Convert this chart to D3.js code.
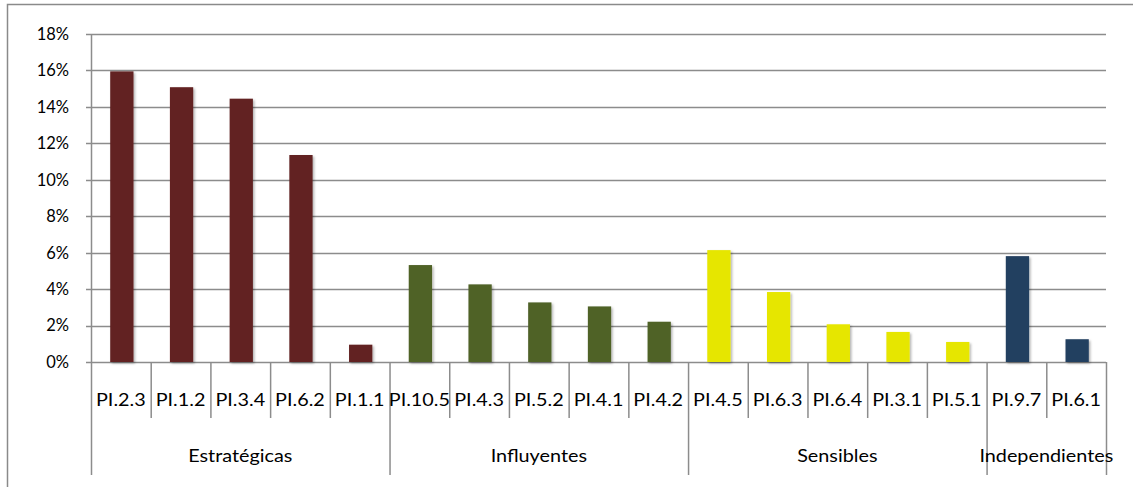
<!DOCTYPE html>
<html>
<head>
<meta charset="utf-8">
<script src="https://cdn.jsdelivr.net/npm/d3@7"></script>
<style>
  body { margin: 0; background: #fff; }
  svg { display: block; font-family: Lato, "DejaVu Sans", sans-serif; }
</style>
</head>
<body>
<svg id="chart"></svg>
<script>
// data
const categories = ["PI.2.3", "PI.1.2", "PI.3.4", "PI.6.2", "PI.1.1",
  "PI.10.5", "PI.4.3", "PI.5.2", "PI.4.1", "PI.4.2",
  "PI.4.5", "PI.6.3", "PI.6.4", "PI.3.1", "PI.5.1",
  "PI.9.7", "PI.6.1"];
const values = [0.1595, 0.1508, 0.1445, 0.1136, 0.0095,
  0.0532, 0.0426, 0.0327, 0.0305, 0.0221,
  0.0614, 0.0384, 0.0207, 0.0165, 0.011,
  0.0581, 0.0125];
const groups = ["Estratégicas", "Influyentes", "Sensibles", "Independientes"];
const groupSizes = [5, 5, 5, 2];
const groupColors = ["#622423", "#4f6228", "#e6e600", "#243f60"];
const yTicks = [0, 0.02, 0.04, 0.06, 0.08, 0.10, 0.12, 0.14, 0.16, 0.18];

const width = 1133;
const height = 487;
const plotLeft = 91, plotRight = 1106, plotTop = 34, plotBottom = 362;
const fontSize = 16.5;
const stretch = 1.2; // the source text is a little wider than it is tall

const svg = d3.select("#chart").attr("width", width).attr("height", height);

// group index per category
const groupOf = [];
groupSizes.forEach((n, g) => { for (let i = 0; i < n; i++) groupOf.push(g); });

const x = d3.scaleBand().domain(d3.range(categories.length)).range([plotLeft, plotRight]).padding(0);
const y = d3.scaleLinear().domain([0, 0.18]).range([plotBottom, plotTop]);

// outer chart border (only top and left visible)
svg.append("path")
  .attr("d", `M7.5,${height} V4.5 H${width}`)
  .attr("fill", "none")
  .attr("stroke", "#8a8a8a")
  .attr("stroke-width", 1.5);

const defs = svg.append("defs");
const shadow = defs.append("filter").attr("id", "shadow")
  .attr("x", "-30%").attr("y", "-10%").attr("width", "160%").attr("height", "130%");
shadow.append("feDropShadow")
  .attr("dx", 1.5).attr("dy", 1.5).attr("stdDeviation", 1.2)
  .attr("flood-color", "#000").attr("flood-opacity", 0.3);

// gridlines
svg.append("g")
  .selectAll("line")
  .data(yTicks)
  .join("line")
  .attr("x1", plotLeft - 5)
  .attr("x2", plotRight)
  .attr("y1", (d) => Math.round(y(d)) + 0.5)
  .attr("y2", (d) => Math.round(y(d)) + 0.5)
  .attr("stroke", "#8c8c8c")
  .attr("stroke-width", 1.5);

// y labels
svg.append("g")
  .selectAll("text")
  .data(yTicks)
  .join("text")
  .attr("x", 69)
  .attr("y", (d) => y(d))
  .attr("dy", "0.36em")
  .attr("text-anchor", "end")
  .attr("font-size", fontSize)
  .attr("fill", "#000")
  .text(d3.format(".0%"));

// bars
const barW = x.bandwidth() * 0.39;
svg.append("g")
  .selectAll("rect")
  .data(values)
  .join("rect")
  .attr("x", (d, i) => x(i) + (x.bandwidth() - barW) / 2 + 1)
  .attr("y", (d) => y(d))
  .attr("width", barW)
  .attr("height", (d) => y(0) - y(d))
  .attr("fill", (d, i) => groupColors[groupOf[i]])
  .attr("filter", "url(#shadow)");

// y axis line
svg.append("line")
  .attr("x1", plotLeft + 0.5).attr("x2", plotLeft + 0.5)
  .attr("y1", plotTop).attr("y2", 475)
  .attr("stroke", "#8c8c8c").attr("stroke-width", 1.5);

// category separators
const sepStarts = d3.range(1, categories.length);
const groupEnds = Array.from(d3.cumsum(groupSizes));
svg.append("g")
  .selectAll("line")
  .data(sepStarts.concat([categories.length]))
  .join("line")
  .attr("x1", (i) => (i < categories.length ? x(i) : plotRight) + 0.5)
  .attr("x2", (i) => (i < categories.length ? x(i) : plotRight) + 0.5)
  .attr("y1", plotBottom)
  .attr("y2", (i) => (groupEnds.includes(i) ? 475 : 418))
  .attr("stroke", "#8c8c8c")
  .attr("stroke-width", 1.5);

// category labels
svg.append("g")
  .selectAll("text")
  .data(categories)
  .join("text")
  .attr("transform", (d, i) => `translate(${x(i) + x.bandwidth() / 2},400) scale(${stretch},1)`)
  .attr("dy", "0.36em")
  .attr("text-anchor", "middle")
  .attr("font-size", fontSize)
  .attr("fill", "#000")
  .text((d) => d);

// group labels
const groupStart = [0, ...groupEnds.slice(0, -1)];
svg.append("g")
  .selectAll("text")
  .data(groups)
  .join("text")
  .attr("transform", (d, g) => {
    const x0 = x(groupStart[g]);
    const x1 = groupEnds[g] < categories.length ? x(groupEnds[g]) : plotRight;
    return `translate(${(x0 + x1) / 2},456) scale(${stretch},1)`;
  })
  .attr("dy", "0.36em")
  .attr("text-anchor", "middle")
  .attr("font-size", fontSize)
  .attr("fill", "#000")
  .text((d) => d);
</script>
</body>
</html>
